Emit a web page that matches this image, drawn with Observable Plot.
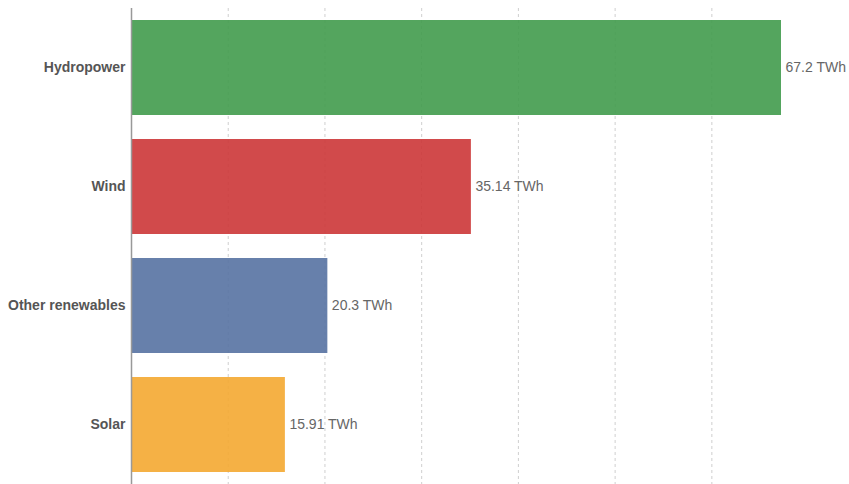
<!DOCTYPE html>
<html>
<head>
<meta charset="utf-8">
<script src="https://cdn.jsdelivr.net/npm/d3@7"></script>
<script src="https://cdn.jsdelivr.net/npm/@observablehq/plot@0.6"></script>
<style>
  html, body { margin: 0; padding: 0; background: #fff; }
  #chart svg { display: block; }
</style>
</head>
<body>
<div id="chart"></div>
<script>
const sources = ["Hydropower", "Wind", "Other renewables", "Solar"];
const generation = [67.2, 35.14, 20.3, 15.91];
const barColors = ["#419b4c", "#cc3637", "#5672a2", "#f4a831"];
const gridTicks = [10, 20, 30, 40, 50, 60];

const data = sources.map((s, i) => ({source: s, value: generation[i], color: barColors[i]}));

const chart = Plot.plot({
  width: 849,
  height: 484,
  marginLeft: 131,
  marginRight: 68,
  marginTop: 8,
  marginBottom: 0,
  style: {fontFamily: "'Liberation Sans', Arial, sans-serif", fontSize: "14px", background: "#fff"},
  x: {domain: [0, d3.max(generation)], axis: null},
  y: {domain: sources, paddingInner: 0.2, paddingOuter: 0.1, label: null, axis: null},
  marks: [
    Plot.ruleX(gridTicks, {stroke: "#cfcfcf", strokeDasharray: "3,3", strokeWidth: 1}),
    Plot.barX(data, {y: "source", x: "value", fill: "color", fillOpacity: 0.9}),
    Plot.text(data, {y: "source", x: "value", text: d => `${d.value} TWh`, textAnchor: "start", dx: 4, fill: "#666", fontSize: 14}),
    Plot.ruleX([0], {stroke: "#999", strokeWidth: 1.5}),
    Plot.axisY({tickSize: 0, tickPadding: 6, fontWeight: "bold", fill: "#555", fontSize: 14, label: null})
  ]
});
document.getElementById("chart").appendChild(chart);
</script>
</body>
</html>
